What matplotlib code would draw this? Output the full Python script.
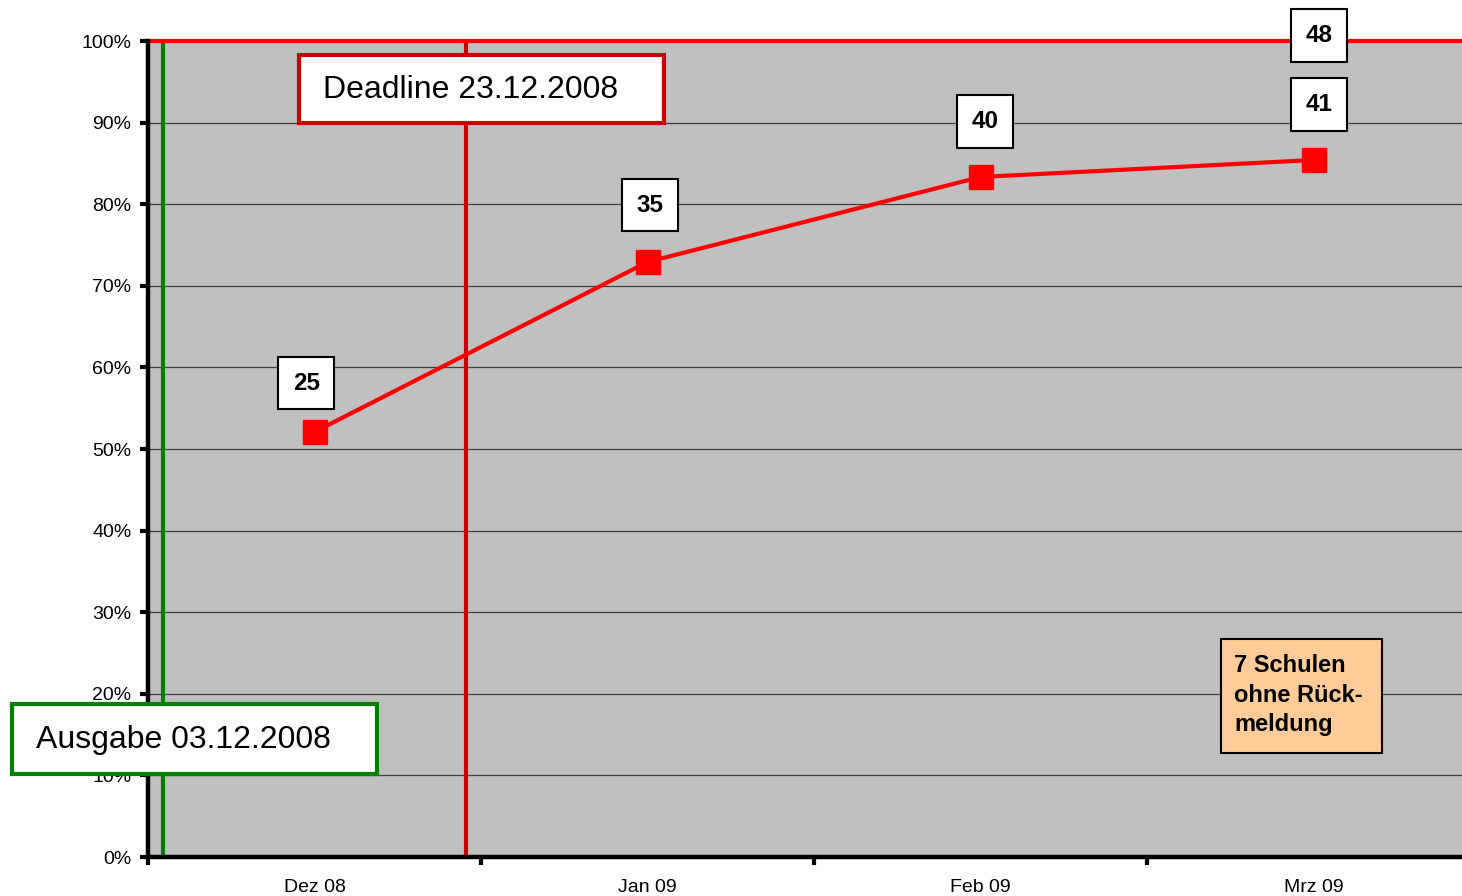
import matplotlib.pyplot as plt
from matplotlib.patches import Rectangle

plt.rcParams['font.family'] = ['Liberation Sans', 'DejaVu Sans']

# Data
months = ['Dez 08', 'Jan 09', 'Feb 09', 'Mrz 09']
responses = [25, 35, 40, 41]
total_schools = 48
missing_text = '7 Schulen\nohne Rück-\nmeldung'

# event markers (position inside the Dez 08 category)
ausgabe_x = -0.455
deadline_x = 0.455

# label offsets in points (layout only)
label_offsets = [(-6, 35), (2, 41), (3, 40), (4, 40)]

share = [r / total_schools for r in responses]
x = list(range(len(months)))

fig = plt.figure(figsize=(14.62, 8.96), dpi=100)
W, H = 1462, 896
ax = fig.add_axes([148 / W, 39 / H, (1480 - 148) / W, 816 / H])
ax.set_facecolor('#C0C0C0')
ax.set_xlim(-0.5, len(months) - 0.5)
ax.set_ylim(0, 1)

# grid
ax.set_yticks([i / 10 for i in range(11)])
ax.set_yticklabels([f'{i * 10}%' for i in range(11)], fontsize=14)
ax.yaxis.grid(True, color='#404040', linewidth=0.9)
ax.set_axisbelow(True)

# category axis: ticks between categories, labels centred
ax.set_xticks([i - 0.5 for i in range(len(months) + 1)])
ax.set_xticklabels([])
ax.set_xticks(x, minor=True)
ax.set_xticklabels(months, minor=True, fontsize=14)
ax.tick_params(axis='x', which='minor', length=0, pad=16)
ax.tick_params(axis='x', which='major', length=6, width=3, direction='out')
ax.tick_params(axis='y', length=6, width=3, direction='out', pad=6)

for side in ['top', 'right']:
    ax.spines[side].set_visible(False)
for side in ['left', 'bottom']:
    ax.spines[side].set_linewidth(3.2)
    ax.spines[side].set_zorder(6)

# total line at 100%
ax.plot([-0.5, len(months) - 0.5], [total_schools / total_schools] * 2,
        color='#FF0000', linewidth=3, zorder=5, clip_on=False)

# event lines
ax.plot([ausgabe_x, ausgabe_x], [0, 1], color='#008000', linewidth=3, zorder=4)
ax.plot([deadline_x, deadline_x], [0, 1], color='#CC0000', linewidth=3, zorder=4)

# response curve
ax.plot(x, share, color='#FF0000', linewidth=3, marker='s', markersize=17,
        zorder=5)

label_box = {'boxstyle': 'square,pad=0.6', 'facecolor': 'white',
             'edgecolor': 'black', 'linewidth': 1.5}
for xi, yi, r, off in zip(x, share, responses, label_offsets):
    ax.annotate(str(r), (xi, yi), xytext=off, textcoords='offset points',
                ha='center', va='center', fontsize=17.5, fontweight='bold',
                bbox=label_box, zorder=8)
ax.annotate(str(total_schools), (x[-1], 1.0), xytext=(4, 4),
            textcoords='offset points', ha='center', va='center',
            fontsize=17.5, fontweight='bold', bbox=label_box, zorder=8,
            annotation_clip=False)

# Deadline box
ax.add_patch(Rectangle((-0.0465, 0.8995), 1.096, 0.0835, facecolor='white',
                       edgecolor='#CC0000', linewidth=3, zorder=7))
ax.text(0.0255, 0.9405, 'Deadline 23.12.2008', fontsize=23, ha='left',
        va='center', zorder=8)

# Ausgabe box
ax.add_patch(Rectangle((-0.908, 0.1017), 1.0957, 0.0858, facecolor='white',
                       edgecolor='#008000', linewidth=3, zorder=9,
                       clip_on=False))
ax.text(-0.836, 0.1435, 'Ausgabe 03.12.2008', fontsize=23, ha='left',
        va='center', zorder=10, clip_on=False)

# schools without response
ax.add_patch(Rectangle((2.7222, 0.1275), 0.4835, 0.1395, facecolor='#FFCC99',
                       edgecolor='black', linewidth=1.5, zorder=7))
ax.text(2.761, 0.1985, missing_text, fontsize=17, fontweight='bold',
        ha='left', va='center', linespacing=1.35, zorder=8)

fig.savefig('out.png', dpi=100)
